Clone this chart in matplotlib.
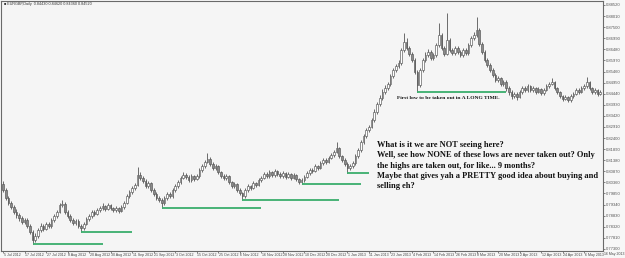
import matplotlib
matplotlib.use("Agg")
import numpy as np
import matplotlib.pyplot as plt
import matplotlib.transforms as mtransforms
from matplotlib import font_manager

# EURGBP daily, one value per bar (open of each bar = previous close)
first_open = 0.8030
closes = [
    0.8001, 0.7964, 0.7941, 0.7923, 0.7900, 0.7886, 0.7872, 0.7854, 0.7863, 0.7835,
    0.7808, 0.7771, 0.7789, 0.7817, 0.7835, 0.7822, 0.7845, 0.7835, 0.7863, 0.7881,
    0.7900, 0.7932, 0.7937, 0.7900, 0.7881, 0.7863, 0.7849, 0.7858, 0.7835, 0.7826,
    0.7845, 0.7868, 0.7881, 0.7900, 0.7891, 0.7909, 0.7918, 0.7927, 0.7914, 0.7932,
    0.7918, 0.7909, 0.7918, 0.7904, 0.7923, 0.7941, 0.7973, 0.7992, 0.8010, 0.8024,
    0.8070, 0.8056, 0.8042, 0.8019, 0.8033, 0.8001, 0.7983, 0.7964, 0.7955, 0.7941,
    0.7964, 0.7983, 0.7973, 0.8001, 0.8019, 0.8038, 0.8056, 0.8070, 0.8061, 0.8047,
    0.8065, 0.8052, 0.8065, 0.8093, 0.8111, 0.8130, 0.8144, 0.8121, 0.8102, 0.8111,
    0.8084, 0.8065, 0.8056, 0.8065, 0.8038, 0.8019, 0.8029, 0.8001, 0.7987, 0.7973,
    0.8001, 0.8019, 0.8010, 0.8033, 0.8024, 0.8047, 0.8056, 0.8075, 0.8065, 0.8084,
    0.8070, 0.8088, 0.8075, 0.8065, 0.8079, 0.8061, 0.8075, 0.8056, 0.8070, 0.8052,
    0.8038, 0.8047, 0.8061, 0.8079, 0.8093, 0.8088, 0.8111, 0.8102, 0.8125, 0.8139,
    0.8130, 0.8148, 0.8162, 0.8176, 0.8194, 0.8157, 0.8139, 0.8121, 0.8102, 0.8111,
    0.8125, 0.8157, 0.8185, 0.8222, 0.8249, 0.8277, 0.8291, 0.8323, 0.8360, 0.8397,
    0.8424, 0.8452, 0.8470, 0.8489, 0.8525, 0.8553, 0.8571, 0.8585, 0.8645, 0.8682,
    0.8654, 0.8627, 0.8599, 0.8544, 0.8484, 0.8553, 0.8599, 0.8622, 0.8636, 0.8608,
    0.8622, 0.8668, 0.8714, 0.8654, 0.8627, 0.8691, 0.8645, 0.8631, 0.8654, 0.8636,
    0.8622, 0.8645, 0.8631, 0.8668, 0.8700, 0.8714, 0.8737, 0.8673, 0.8636, 0.8599,
    0.8576, 0.8553, 0.8530, 0.8507, 0.8516, 0.8489, 0.8498, 0.8470, 0.8452, 0.8433,
    0.8443, 0.8429, 0.8452, 0.8470, 0.8461, 0.8479, 0.8461, 0.8470, 0.8452, 0.8466,
    0.8447, 0.8461, 0.8479, 0.8489, 0.8498, 0.8470, 0.8452, 0.8433, 0.8420, 0.8429,
    0.8415, 0.8433, 0.8443, 0.8461, 0.8452, 0.8470, 0.8479, 0.8498, 0.8470, 0.8452,
    0.8461, 0.8443, 0.8452,
]
highs = [
    0.8042, 0.8010, 0.7972, 0.7950, 0.7931, 0.7912, 0.7895, 0.7880, 0.7874, 0.7870,
    0.7844, 0.7815, 0.7801, 0.7828, 0.7848, 0.7843, 0.7856, 0.7852, 0.7874, 0.7892,
    0.7911, 0.7943, 0.7955, 0.7944, 0.7908, 0.7889, 0.7871, 0.7868, 0.7866, 0.7844,
    0.7855, 0.7878, 0.7892, 0.7910, 0.7908, 0.7918, 0.7928, 0.7940, 0.7934, 0.7942,
    0.7938, 0.7925, 0.7928, 0.7924, 0.7932, 0.7952, 0.7982, 0.8003, 0.8020, 0.8035,
    0.8107, 0.8082, 0.8066, 0.8050, 0.8044, 0.8040, 0.8010, 0.7990, 0.7972, 0.7962,
    0.7975, 0.7992, 0.7990, 0.8012, 0.8030, 0.8048, 0.8066, 0.8082, 0.8078, 0.8068,
    0.8074, 0.8072, 0.8075, 0.8102, 0.8122, 0.8140, 0.8171, 0.8152, 0.8128, 0.8122,
    0.8118, 0.8090, 0.8073, 0.8076, 0.8070, 0.8044, 0.8040, 0.8035, 0.8008, 0.7994,
    0.8010, 0.8028, 0.8026, 0.8042, 0.8040, 0.8056, 0.8066, 0.8085, 0.8082, 0.8093,
    0.8090, 0.8097, 0.8094, 0.8082, 0.8088, 0.8086, 0.8084, 0.8080, 0.8079, 0.8074,
    0.8058, 0.8056, 0.8070, 0.8088, 0.8102, 0.8104, 0.8120, 0.8118, 0.8134, 0.8148,
    0.8146, 0.8157, 0.8172, 0.8186, 0.8222, 0.8200, 0.8164, 0.8146, 0.8128, 0.8120,
    0.8134, 0.8166, 0.8194, 0.8232, 0.8260, 0.8288, 0.8302, 0.8334, 0.8372, 0.8408,
    0.8436, 0.8464, 0.8482, 0.8500, 0.8536, 0.8564, 0.8582, 0.8598, 0.8656, 0.8723,
    0.8702, 0.8662, 0.8634, 0.8606, 0.8552, 0.8562, 0.8610, 0.8634, 0.8648, 0.8644,
    0.8632, 0.8678, 0.8769, 0.8722, 0.8662, 0.8815, 0.8700, 0.8654, 0.8664, 0.8662,
    0.8645, 0.8656, 0.8652, 0.8678, 0.8710, 0.8726, 0.8797, 0.8745, 0.8680, 0.8644,
    0.8606, 0.8584, 0.8562, 0.8538, 0.8526, 0.8522, 0.8508, 0.8505, 0.8478, 0.8460,
    0.8454, 0.8450, 0.8462, 0.8480, 0.8478, 0.8488, 0.8486, 0.8480, 0.8476, 0.8475,
    0.8472, 0.8470, 0.8488, 0.8498, 0.8516, 0.8504, 0.8476, 0.8458, 0.8440, 0.8438,
    0.8435, 0.8442, 0.8452, 0.8470, 0.8468, 0.8478, 0.8490, 0.8521, 0.8504, 0.8476,
    0.8470, 0.8466, 0.8462,
]
lows = [
    0.7990, 0.7955, 0.7930, 0.7912, 0.7890, 0.7874, 0.7860, 0.7843, 0.7846, 0.7826,
    0.7798, 0.7753, 0.7762, 0.7780, 0.7808, 0.7812, 0.7815, 0.7825, 0.7828, 0.7856,
    0.7872, 0.7893, 0.7922, 0.7890, 0.7870, 0.7852, 0.7838, 0.7840, 0.7825, 0.7808,
    0.7818, 0.7838, 0.7860, 0.7874, 0.7882, 0.7884, 0.7900, 0.7910, 0.7905, 0.7908,
    0.7910, 0.7900, 0.7902, 0.7896, 0.7898, 0.7915, 0.7935, 0.7966, 0.7984, 0.8001,
    0.8018, 0.8046, 0.8033, 0.8010, 0.8012, 0.7992, 0.7974, 0.7955, 0.7944, 0.7918,
    0.7933, 0.7955, 0.7962, 0.7966, 0.7993, 0.8012, 0.8030, 0.8050, 0.8052, 0.8038,
    0.8040, 0.8044, 0.8046, 0.8058, 0.8085, 0.8104, 0.8124, 0.8112, 0.8092, 0.8095,
    0.8075, 0.8056, 0.8046, 0.8048, 0.8030, 0.8010, 0.8012, 0.7992, 0.7978, 0.7955,
    0.7966, 0.7994, 0.8002, 0.8004, 0.8016, 0.8018, 0.8040, 0.8050, 0.8056, 0.8058,
    0.8062, 0.8063, 0.8067, 0.8057, 0.8058, 0.8053, 0.8055, 0.8048, 0.8050, 0.8043,
    0.8030, 0.8029, 0.8040, 0.8055, 0.8072, 0.8080, 0.8082, 0.8094, 0.8096, 0.8118,
    0.8122, 0.8124, 0.8142, 0.8155, 0.8170, 0.8148, 0.8130, 0.8112, 0.8079, 0.8094,
    0.8104, 0.8118, 0.8150, 0.8178, 0.8214, 0.8240, 0.8268, 0.8284, 0.8315, 0.8352,
    0.8388, 0.8415, 0.8444, 0.8461, 0.8480, 0.8516, 0.8544, 0.8562, 0.8578, 0.8636,
    0.8645, 0.8617, 0.8590, 0.8534, 0.8452, 0.8476, 0.8545, 0.8590, 0.8614, 0.8598,
    0.8600, 0.8615, 0.8660, 0.8645, 0.8617, 0.8620, 0.8636, 0.8620, 0.8624, 0.8627,
    0.8612, 0.8615, 0.8622, 0.8624, 0.8660, 0.8692, 0.8706, 0.8664, 0.8626, 0.8590,
    0.8566, 0.8544, 0.8520, 0.8497, 0.8498, 0.8478, 0.8480, 0.8456, 0.8438, 0.8420,
    0.8424, 0.8415, 0.8422, 0.8444, 0.8452, 0.8454, 0.8452, 0.8454, 0.8444, 0.8445,
    0.8438, 0.8440, 0.8455, 0.8472, 0.8482, 0.8462, 0.8443, 0.8424, 0.8410, 0.8413,
    0.8404, 0.8408, 0.8426, 0.8436, 0.8444, 0.8446, 0.8463, 0.8472, 0.8462, 0.8443,
    0.8444, 0.8434, 0.8436,
]

# green support lines: bar where it starts, bar where it ends, price level
line_start = [11, 29, 59, 89, 111, 128, 154]
line_end = [37, 48, 96, 125, 133, 136, 187]
line_level = [0.7753, 0.7808, 0.7918, 0.7955, 0.8029, 0.8079, 0.8452]

date_labels = ["5 Jul 2012", "17 Jul 2012", "27 Jul 2012", "8 Aug 2012", "20 Aug 2012",
               "30 Aug 2012", "11 Sep 2012", "21 Sep 2012", "3 Oct 2012", "15 Oct 2012",
               "25 Oct 2012", "6 Nov 2012", "16 Nov 2012", "28 Nov 2012", "10 Dec 2012",
               "20 Dec 2012", "1 Jan 2013", "11 Jan 2013", "23 Jan 2013", "4 Feb 2013",
               "14 Feb 2013", "26 Feb 2013", "8 Mar 2013", "20 Mar 2013", "2 Apr 2013",
               "12 Apr 2013", "24 Apr 2013", "6 May 2013", "16 May 2013"]
price_ticks = [0.77300, 0.77810, 0.78320, 0.78830, 0.79340, 0.79850, 0.80360, 0.80870,
               0.81380, 0.81890, 0.82400, 0.82910, 0.83420, 0.83930, 0.84440, 0.84950,
               0.85460, 0.85970, 0.86480, 0.86990, 0.87500, 0.88010, 0.88520]

title = "EURGBP,Daily  0.84430 0.84620 0.84360 0.84520"
note_small = "First low to be taken out in A LONG TIME."
note_lines = ["What is it we are NOT seeing here?",
              "Well, see how NONE of these lows are never taken out? Only",
              "the highs are taken out, for like... 9 months?",
              "Maybe that gives yah a PRETTY good idea about buying and",
              "selling eh?"]

# small axis font: narrow sans if present
try:
    font_manager.findfont("Liberation Sans Narrow", fallback_to_default=False)
    axis_font = "Liberation Sans Narrow"
except ValueError:
    axis_font = "Liberation Sans"

W, H = 625, 258
fig = plt.figure(figsize=(W / 100, H / 100), dpi=100, facecolor="#f7f7f7")
ax = fig.add_axes([1 / W, 7 / H, 602 / W, 250 / H], facecolor="#f5f5f5")

o = np.array([first_open] + closes[:-1])
c = np.array(closes)
hi = np.array(highs)
lo = np.array(lows)
x = np.arange(len(c))
up = c >= o
body_bot = np.minimum(o, c)
body_h = np.maximum(np.abs(c - o), 0.00008)

edge = "#555555"
ax.vlines(x, lo, hi, color=edge, lw=0.6, zorder=2)
ax.bar(x[up], body_h[up], bottom=body_bot[up], width=0.62, color="white",
       edgecolor=edge, lw=0.45, zorder=3)
ax.bar(x[~up], body_h[~up], bottom=body_bot[~up], width=0.62, color="#8a8a8a",
       edgecolor=edge, lw=0.45, zorder=3)

ax.hlines(line_level, line_start, line_end, color="#3aae6c", lw=1.3, zorder=4)

ax.set_xlim(-0.75, 223.0)
ax.set_ylim(0.77204, 0.88704)

for s in ax.spines.values():
    s.set_color("#6a6a6a")
    s.set_linewidth(0.8)

ax.yaxis.tick_right()
ax.set_yticks(price_ticks)
ax.set_yticklabels([f"{t:.5f}" for t in price_ticks], fontsize=3.0, color="#444444",
                   family=axis_font)
ax.tick_params(axis="y", length=1.5, width=0.5, pad=0.8, colors="#555555")

tick_pos = [8 * k for k in range(len(date_labels))]
ax.set_xticks([p for p in tick_pos if p <= 223])
ax.set_xticklabels([])
ax.tick_params(axis="x", length=1.5, width=0.5, colors="#555555")
trans = mtransforms.blended_transform_factory(ax.transData, ax.transAxes)
for p, lab in zip(tick_pos[:-1], date_labels[:-1]):
    ax.text(p + 0.2, -0.008, lab, transform=trans, fontsize=2.6, color="#444444",
            family=axis_font, ha="left", va="top", clip_on=False)
# last label sits in the price-scale corner, flush with the right edge
fig.text(624.5 / W, 1 - 252.5 / H, date_labels[-1], fontsize=2.5, color="#444444",
         family=axis_font, ha="right", va="top")

fig.text(4 / W, 1 - 4 / H, "\u25a0 " + title, fontsize=2.7, color="#333333",
         family=axis_font, ha="left", va="center")

serif = ["Liberation Serif", "DejaVu Serif"]
fig.text(397 / W, 1 - 98 / H, note_small, fontsize=3.95, fontweight="bold",
         family=serif, ha="left", va="center", color="#111111")
for k, line in enumerate(note_lines):
    fig.text(377 / W, 1 - (145 + 10.3 * k) / H, line, fontsize=6.05, fontweight="bold",
             family=serif, ha="left", va="center", color="#111111")

fig.savefig("out.png", dpi=100, facecolor=fig.get_facecolor())
